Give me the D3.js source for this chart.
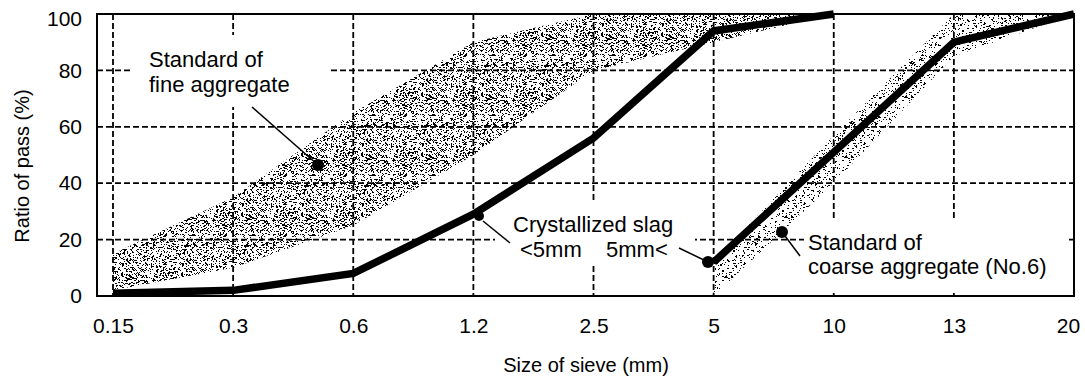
<!DOCTYPE html>
<html><head><meta charset="utf-8">
<script src="https://cdn.jsdelivr.net/npm/d3@7"></script>
<style>
body{margin:0;background:#fff}
text{font-family:"Liberation Sans",Arial,sans-serif;fill:#000}
</style>
</head><body>
<svg id="c" width="1085" height="379"></svg>
<script>
// ---- data ----
const sieves = ["0.15","0.3","0.6","1.2","2.5","5","10","13","20"];
const yTicks = [0,20,40,60,80,100];
const fineSieves = ["0.15","0.3","0.6","1.2","2.5","5","10"];
const coarseSieves = ["5","10","13","20"];
const slagFine = [1,2,8,29,56,94,100];
const slagCoarse = [12,51,90,100];
const fineLower = [2,10,25,50,80,90,100];
const fineUpper = [15,35,65,90,100,100,100];
const coarseLower = [0,40,85,100];
const coarseUpper = [12,57,100,100];

// ---- layout ----
const W = 1085, H = 379;
const L = 97, R = 1074, T = 14, B = 296;
const svg = d3.select("#c");
svg.append("rect").attr("width",W).attr("height",H).attr("fill","#fff");

const x = d3.scalePoint().domain(sieves).range([113, R]);
const y = d3.scaleLinear().domain([0,100]).range([B, T]);

// stipple textures (decorative)
const defs = svg.append("defs");
function stipple(id, n, seed){
  const size = 60;
  const p = defs.append("pattern").attr("id",id).attr("patternUnits","userSpaceOnUse")
    .attr("width",size).attr("height",size);
  let s = seed;
  const rnd = () => { s = (s*1103515245 + 12345) % 2147483648; return s/2147483648; };
  for(let i=0;i<n;i++){
    const w = rnd() < 0.25 ? 2 : 1;
    p.append("rect").attr("x",Math.floor(rnd()*size)).attr("y",Math.floor(rnd()*size))
      .attr("width",w).attr("height",1).attr("fill","#000");
  }
}
stipple("fineDots", 950, 7);
stipple("coarseDots", 480, 19);

// ---- bands ----
const area = d3.area().x(d=>x(d.k)).y0(d=>y(d.lo)).y1(d=>y(d.hi));
svg.append("path")
  .datum(fineSieves.map((k,i)=>({k, lo:fineLower[i], hi:fineUpper[i]})))
  .attr("d",area).attr("fill","url(#fineDots)");
svg.append("path")
  .datum(coarseSieves.map((k,i)=>({k, lo:coarseLower[i], hi:coarseUpper[i]})))
  .attr("d",area).attr("fill","url(#coarseDots)");

// ---- grid ----
const grid = svg.append("g").attr("stroke","#000").attr("stroke-width",1.8).attr("stroke-dasharray","6,3");
grid.selectAll("line.v").data(sieves.slice(0,-1)).join("line")
  .attr("x1",d=>x(d)).attr("x2",d=>x(d)).attr("y1",T).attr("y2",B);
grid.selectAll("line.h").data(yTicks.filter(v=>v>0 && v<100)).join("line")
  .attr("x1",L).attr("x2",R).attr("y1",d=>y(d)).attr("y2",d=>y(d));

// white label backgrounds interrupting grid
const boxes = [[132,35,196,72],[495,200,200,65],[804,221,262,70]];
svg.selectAll("rect.bg").data(boxes).join("rect")
  .attr("x",d=>d[0]).attr("y",d=>d[1]).attr("width",d=>d[2]).attr("height",d=>d[3]).attr("fill","#fff");

// ---- slag lines ----
const line = d3.line().x(d=>x(d.k)).y(d=>y(d.v));
svg.append("path").datum(fineSieves.map((k,i)=>({k,v:slagFine[i]})))
  .attr("d",line).attr("fill","none").attr("stroke","#000").attr("stroke-width",7.5);
svg.append("path").datum(coarseSieves.map((k,i)=>({k,v:slagCoarse[i]})))
  .attr("d",line).attr("fill","none").attr("stroke","#000").attr("stroke-width",7.5);

// ---- frame ----
svg.append("rect").attr("x",L).attr("y",T).attr("width",R-L).attr("height",B-T)
  .attr("fill","none").attr("stroke","#000").attr("stroke-width",2);

// ---- axes ----
const ax = svg.append("g").attr("transform",`translate(0,${B})`)
  .call(d3.axisBottom(x).tickSize(0).tickPadding(22));
ax.select(".domain").remove();
ax.selectAll("text").attr("font-size",21).style("font-family","'Liberation Sans',Arial,sans-serif");
ax.selectAll(".tick").filter(d=>d==="20").select("text").attr("dx",-6);

const ay = svg.append("g").attr("transform",`translate(${L},0)`)
  .call(d3.axisLeft(y).tickValues(yTicks).tickSize(0).tickPadding(15));
ay.select(".domain").remove();
ay.selectAll("text").attr("font-size",21).style("font-family","'Liberation Sans',Arial,sans-serif");
ay.selectAll(".tick").filter(d=>d===100).select("text").attr("dy","0.55em");

svg.append("text").attr("x",586).attr("y",372).attr("text-anchor","middle")
  .attr("font-size",20).text("Size of sieve (mm)");
svg.append("text").attr("transform","translate(29,166) rotate(-90)").attr("text-anchor","middle")
  .attr("font-size",20).text("Ratio of pass (%)");

// ---- annotations ----
const ann = svg.append("g");
function label(lines, x0, y0, dy){
  lines.forEach((t,i)=>ann.append("text").attr("x",x0).attr("y",y0+i*dy).attr("font-size",22).text(t));
}
label(["Standard of","fine aggregate"],149,67,25);
label(["Crystallized slag"],513,232,0);
ann.append("text").attr("x",520).attr("y",257).attr("font-size",22).text("<5mm");
ann.append("text").attr("x",606).attr("y",257).attr("font-size",22).text("5mm<");
label(["Standard of","coarse aggregate (No.6)"],808,250,24);

const leaders = [[252,107,318,165],[483,221,510,243],[679,248,708,262],[782,232,800,256]];
ann.selectAll("line.ld").data(leaders).join("line")
  .attr("x1",d=>d[0]).attr("y1",d=>d[1]).attr("x2",d=>d[2]).attr("y2",d=>d[3])
  .attr("stroke","#000").attr("stroke-width",1.5);
const dots = [[318,165,6],[479,216,5],[708,262,6],[782,232,6]];
ann.selectAll("circle").data(dots).join("circle")
  .attr("cx",d=>d[0]).attr("cy",d=>d[1]).attr("r",d=>d[2]).attr("fill","#000");
</script>
</body></html>
